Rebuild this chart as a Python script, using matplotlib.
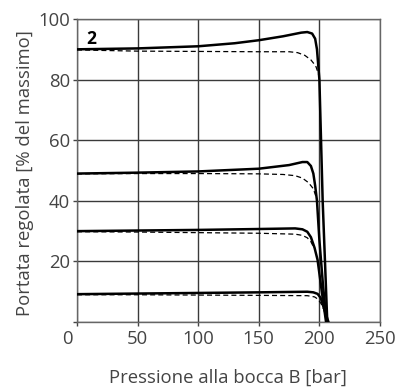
import matplotlib
matplotlib.use('Agg')
import matplotlib.pyplot as plt

plt.rcParams['font.family'] = ['Open Sans', 'DejaVu Sans']

# pressure [bar] / flow [% of max]
x_s1 = [0, 50, 100, 130, 150, 170, 185, 190, 194, 196.5, 198, 200, 202.7, 206.5]
y_s1 = [90.0, 90.3, 91.0, 92.0, 93.0, 94.3, 95.5, 95.7, 95.2, 93.5, 90.0, 80.0, 40.0, 0.0]
x_d1 = [0, 50, 100, 150, 175, 182, 188, 193, 197, 199.5]
y_d1 = [89.8, 89.4, 89.3, 89.2, 89.2, 88.9, 88.0, 86.5, 84.5, 81.5]

x_s2 = [0, 50, 100, 150, 175, 186, 190, 193, 195, 196.5, 198, 200, 203, 206]
y_s2 = [49.0, 49.3, 49.7, 50.6, 51.8, 52.8, 52.8, 51.5, 49.0, 45.0, 40.0, 27.0, 12.0, 0.0]
x_d2 = [0, 50, 100, 150, 170, 180, 186, 191, 195, 197.5]
y_d2 = [48.9, 49.0, 49.0, 48.9, 48.7, 48.3, 47.5, 46.0, 44.0, 41.0]

x_s3 = [0, 50, 100, 150, 180, 186, 190, 193, 196, 198.5, 202, 205.5]
y_s3 = [30.0, 30.2, 30.4, 30.7, 30.9, 30.6, 29.8, 28.0, 24.5, 20.5, 10.0, 0.0]
x_d3 = [0, 50, 100, 150, 180, 186, 190, 193, 195.5]
y_d3 = [29.8, 29.7, 29.5, 29.3, 29.0, 28.6, 27.8, 26.5, 24.5]

x_s4 = [0, 50, 100, 150, 190, 195, 198.5, 201, 203, 205, 207.5]
y_s4 = [9.2, 9.4, 9.6, 9.8, 10.0, 9.8, 9.3, 8.0, 5.5, 3.0, 0.0]
x_d4 = [0, 50, 100, 150, 190, 196, 199, 201.5, 203]
y_d4 = [9.0, 9.0, 8.9, 8.8, 8.7, 8.3, 7.5, 6.0, 4.5]

xticks = [0, 50, 100, 150, 200, 250]
yticks = [0, 20, 40, 60, 80, 100]

fig = plt.figure(figsize=(3.95, 3.88), dpi=100)
ax = fig.add_axes([0.195, 0.170, 0.767, 0.781])

txt = '#444444'
fs = 13.3
for xs, ys in [(x_s1, y_s1), (x_s2, y_s2), (x_s3, y_s3), (x_s4, y_s4)]:
    ax.plot(xs, ys, color='black', lw=1.8, solid_joinstyle='round', zorder=3)
for xs, ys in [(x_d1, y_d1), (x_d2, y_d2), (x_d3, y_d3), (x_d4, y_d4)]:
    ax.plot(xs, ys, color='black', lw=0.9, dashes=(4, 2.5), zorder=3)

ax.set_xlim(0, 250)
ax.set_ylim(0, 100)
ax.set_xticks(xticks)
ax.set_yticks(yticks)
ax.set_xticklabels([''] + [str(v) for v in xticks[1:]])
ax.set_yticklabels([''] + [str(v) for v in yticks[1:]])
ax.grid(True, color='#3a3a3a', lw=1.0)
ax.set_axisbelow(True)
for s in ax.spines.values():
    s.set_color('#666666')
    s.set_linewidth(1.0)
ax.tick_params(direction='out', length=3, width=1, color='#444444',
               labelsize=fs, labelcolor=txt)
ax.tick_params(axis='x', pad=3)
ax.tick_params(axis='y', pad=2)

ax.text(-8.3, -2.6, '0', fontsize=fs, color=txt, ha='center', va='top')
ax.text(0.03, 0.965, '2', transform=ax.transAxes, fontsize=12.5,
        fontweight='bold', color='black', ha='left', va='top')

fig.text(25 / 395, 0.554, 'Portata regolata [% del massimo]', rotation=90,
         fontsize=fs, color=txt, ha='center', va='center')
fig.text(0.578, 1 - 378 / 388, 'Pressione alla bocca B [bar]',
         fontsize=fs, color=txt, ha='center', va='center')

fig.savefig('out.png', dpi=100)
